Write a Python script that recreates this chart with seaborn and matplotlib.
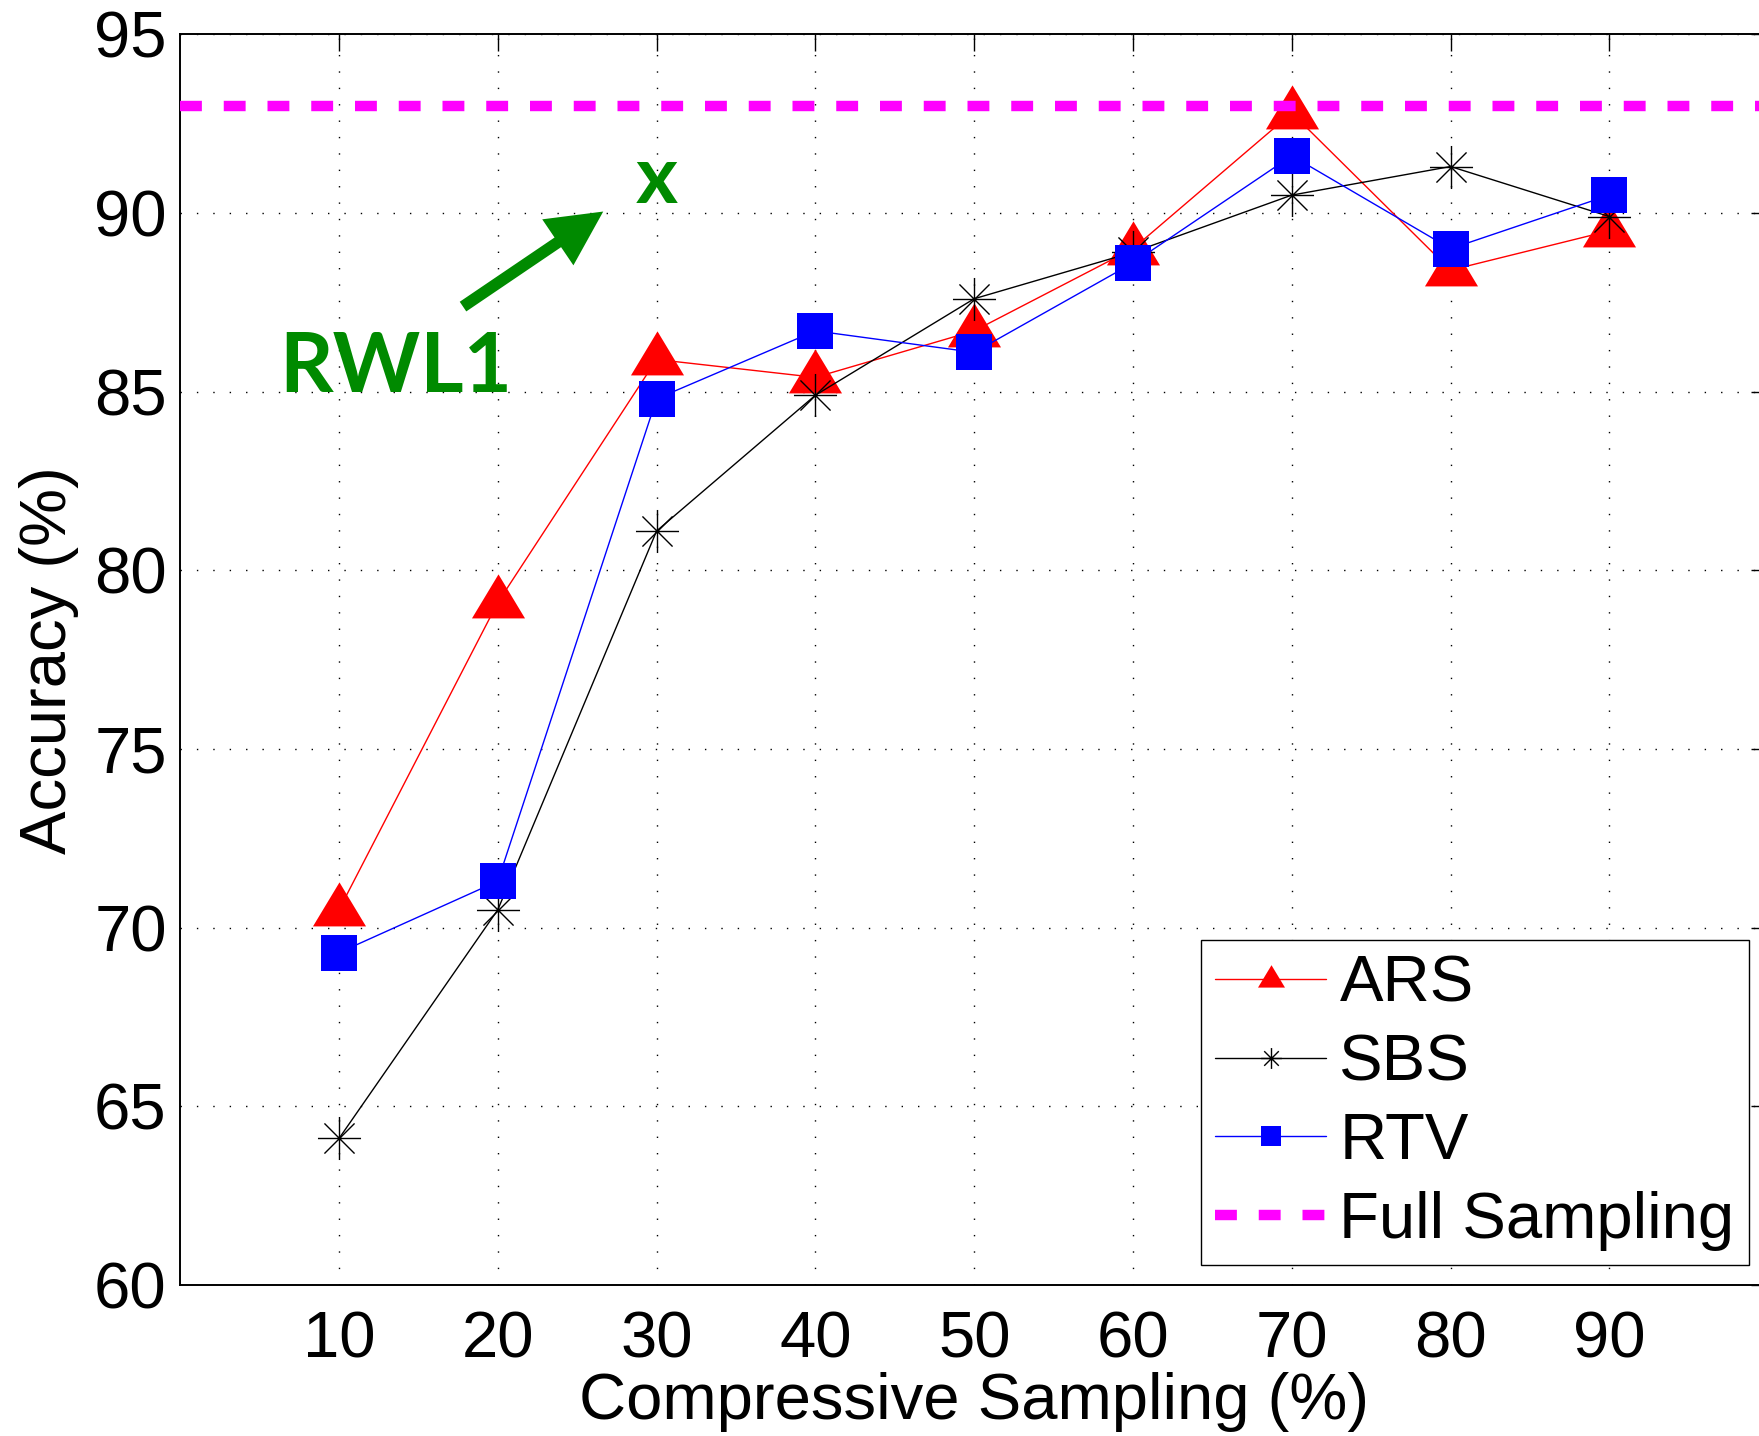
import numpy as np
import pandas as pd
import matplotlib
matplotlib.use("Agg")
import matplotlib.pyplot as plt
from matplotlib.path import Path
from matplotlib.lines import Line2D
import seaborn as sns

# ---------------- data ----------------
sampling = [10, 20, 30, 40, 50, 60, 70, 80, 90]
ars = [70.5, 79.1, 85.9, 85.4, 86.7, 89.0, 92.8, 88.4, 89.5]
sbs = [64.1, 70.5, 81.1, 84.9, 87.6, 88.9, 90.5, 91.3, 89.9]
rtv = [69.3, 71.3, 84.8, 86.7, 86.1, 88.6, 91.6, 89.0, 90.5]
full_sampling = 93.0
series_names = ["ARS", "SBS", "RTV", "Full Sampling"]
x_ticks = [10, 20, 30, 40, 50, 60, 70, 80, 90]
y_ticks = [60, 65, 70, 75, 80, 85, 90, 95]
x_label = "Compressive Sampling (%)"
y_label = "Accuracy (%)"
annot_method = "RWL1"
annot_mark = "x"

RED, BLACK, BLUE, MAGENTA, GREEN = "#ff0000", "#000000", "#0000ff", "#ff00ff", "#008a00"

sns.set_theme(style="white")
plt.rcParams["font.family"] = ["Liberation Sans", "DejaVu Sans"]

fig = plt.figure(figsize=(17.59, 14.36), dpi=100)
ax = fig.add_axes([0.10244, 0.10515, 0.90278, 0.87096])

# MATLAB-like markers
tri = Path([(-1, -0.6), (1, -0.6), (0, 1.06), (-1, -0.6)],
           [Path.MOVETO, Path.LINETO, Path.LINETO, Path.CLOSEPOLY])
d = 0.7
star = Path([(0, -1), (0, 1), (-1, 0), (1, 0), (-d, -d), (d, d), (-d, d), (d, -d)],
            [Path.MOVETO, Path.LINETO] * 4)

df = pd.DataFrame({"x": sampling, "ARS": ars, "SBS": sbs, "RTV": rtv})

sns.lineplot(data=df, x="x", y="ARS", ax=ax, color=RED, linewidth=1.0,
             marker=tri, markersize=40.5, markeredgewidth=0,
             markeredgecolor=RED, markerfacecolor=RED, legend=False)
sns.lineplot(data=df, x="x", y="SBS", ax=ax, color=BLACK, linewidth=1.0,
             marker=star, markersize=31, markeredgewidth=1.0,
             markeredgecolor=BLACK, markerfacecolor="none", legend=False)
sns.lineplot(data=df, x="x", y="RTV", ax=ax, color=BLUE, linewidth=1.0,
             marker="s", markersize=26, markeredgewidth=0,
             markeredgecolor=BLUE, markerfacecolor=BLUE, legend=False)
ax.axhline(full_sampling, color=MAGENTA, linewidth=7.5, linestyle=(0, (2.1, 2.1)), zorder=3)

# axes styling
ax.set_xlim(0, 100)
ax.set_ylim(60, 95)
ax.set_xticks(x_ticks)
ax.set_yticks(y_ticks)
ax.grid(True, color="black", linestyle=(0, (1, 10.8)), linewidth=1.0)
ax.set_axisbelow(True)
for s in ax.spines.values():
    s.set_visible(True)
    s.set_color("black")
    s.set_linewidth(1.4)
ax.tick_params(axis="both", direction="in", length=12, width=1.0, colors="black",
               labelsize=47, top=True, right=True)
ax.tick_params(axis="x", pad=18)
ax.tick_params(axis="y", pad=9.7)

ax.set_xlabel(x_label, fontsize=47, color="black")
ax.set_ylabel(y_label, fontsize=47, color="black")
ax.xaxis.set_label_coords(0.5, -0.0696)
ax.yaxis.set_label_coords(-0.0635, 0.5)

# annotation
ax.annotate("", xy=(26.64, 90.04), xytext=(17.81, 87.38),
            arrowprops=dict(width=8.4, headwidth=40, headlength=39.5, shrink=0,
                            facecolor=GREEN, edgecolor=GREEN, linewidth=0))
ax.text(13.6, 85.0, annot_method, fontsize=60, fontweight="bold", color=GREEN,
        family=["Lato", "DejaVu Sans"], ha="center", va="baseline")
ax.text(30.0, 90.27, annot_mark, fontsize=58, fontweight="bold", color=GREEN,
        family=["Lato", "DejaVu Sans"], ha="center", va="baseline")

# legend
handles = [
    Line2D([], [], color=RED, linewidth=1.0, marker=tri, markersize=20.6,
           markeredgewidth=0, markerfacecolor=RED),
    Line2D([], [], color=BLACK, linewidth=1.0, marker=star, markersize=15,
           markeredgewidth=1.0, markeredgecolor=BLACK, markerfacecolor="none"),
    Line2D([], [], color=BLUE, linewidth=1.0, marker="s", markersize=14.4,
           markeredgewidth=0, markerfacecolor=BLUE),
    Line2D([], [], color=MAGENTA, linewidth=7.5, linestyle=(0, (2.1, 2.1))),
]
leg = ax.legend(handles, series_names, loc="lower right", bbox_to_anchor=(0.9879, 0.016),
                borderaxespad=0, fontsize=47, handlelength=1.7, handletextpad=0.2,
                borderpad=0.22, labelspacing=0.285, frameon=True, fancybox=False,
                edgecolor="black", framealpha=1, facecolor="white")
leg.get_frame().set_linewidth(1.0)
for t in leg.get_texts():
    t.set_color("black")

fig.savefig("out.png", dpi=100)
